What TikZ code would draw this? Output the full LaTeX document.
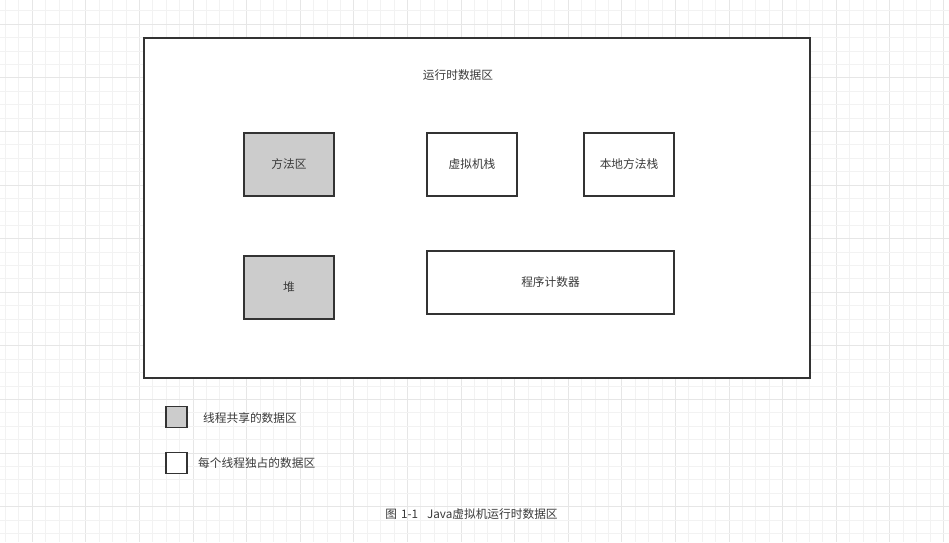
\documentclass[tikz,border=0pt]{standalone}
\usepackage{fontspec}
\setmainfont{Noto Sans CJK SC}
\definecolor{gridminor}{HTML}{F2F2F2}
\definecolor{gridmajor}{HTML}{E6E6E6}
\definecolor{edge}{HTML}{333333}
\definecolor{txt}{HTML}{3A3A3A}
\definecolor{shared}{HTML}{CCCCCC}
\begin{document}
\begin{tikzpicture}[x=1pt,y=-1pt,
  area/.style={draw=edge,line width=1.4pt,fill=white,minimum width=90pt,minimum height=63pt,inner sep=0pt,text=txt,font=\fontsize{11.7}{14}\selectfont},
  sharedarea/.style={area,fill=shared},
  legendbox/.style={draw=edge,line width=1.4pt,minimum width=21pt,minimum height=21pt,inner sep=0pt},
  label/.style={text=txt,font=\fontsize{11.7}{14}\selectfont,inner sep=0pt}]
\useasboundingbox (0,0) rectangle (949,542);
\fill[white] (0,0) rectangle (949,542);
% grid
\foreach \k in {-2,...,68}{
  \pgfmathsetmacro{\xx}{32.3+13.4*\k}
  \pgfmathtruncatemacro{\m}{mod(\k+400,4)}
  \ifnum\m=0
    \draw[gridmajor,line width=1pt] (\xx,0) -- (\xx,542);
  \else
    \draw[gridminor,line width=1pt] (\xx,0) -- (\xx,542);
  \fi
}
\foreach \k in {-1,...,39}{
  \pgfmathsetmacro{\yy}{24.3+13.4*\k}
  \pgfmathtruncatemacro{\m}{mod(\k+400,4)}
  \ifnum\m=0
    \draw[gridmajor,line width=1pt] (0,\yy) -- (949,\yy);
  \else
    \draw[gridminor,line width=1pt] (0,\yy) -- (949,\yy);
  \fi
}
% main box
\node[draw=edge,line width=1.4pt,fill=white,minimum width=666pt,minimum height=340pt,inner sep=0pt] (main) at (477,208) {};
\node[label] (title) at (458,75) {运行时数据区};
\node[sharedarea] (method) at (289,164.5) {方法区};
\node[area] (vmstack) at (472,164.5) {虚拟机栈};
\node[area] (native) at (629,164.5) {本地方法栈};
\node[sharedarea] (heap) at (289,287.5) {堆};
\node[area,minimum width=247pt] (pc) at (550.5,282.5) {程序计数器};
% legend
\node[legendbox,fill=shared] (lg1) at (176.5,417) {};
\node[label,anchor=west] (lt1) at (203,418) {线程共享的数据区};
\node[legendbox,fill=white] (lg2) at (176.5,463) {};
\node[label,anchor=west] (lt2) at (198,463) {每个线程独占的数据区};
% caption
\node[label] (cap) at (471.5,514) {图\hspace{4pt}1-1\hspace{9pt}Java虚拟机运行时数据区};
\end{tikzpicture}
\end{document}
